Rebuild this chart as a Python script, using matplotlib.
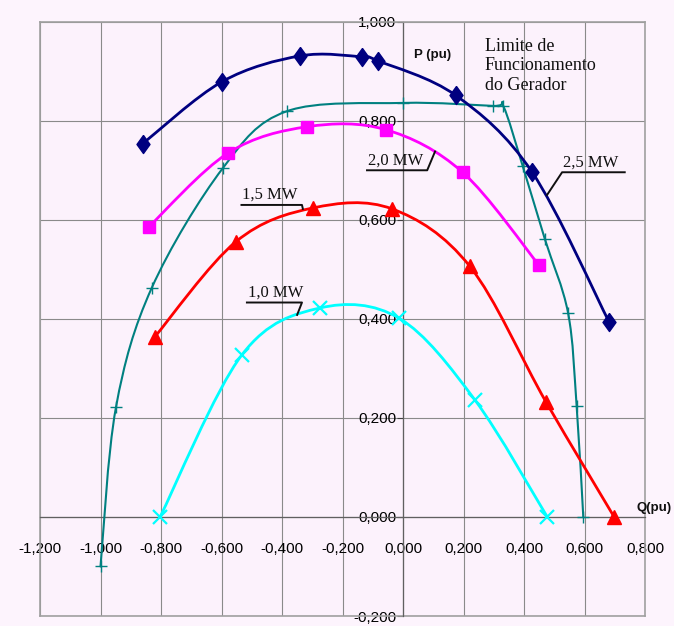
import matplotlib
matplotlib.use("Agg")
import matplotlib.pyplot as plt
from matplotlib.path import Path
from matplotlib.patches import PathPatch
import numpy as np

plt.rcParams['font.family'] = ['Liberation Sans', 'DejaVu Sans']

#%% Dados (Q em pu, P em pu)

# limite de funcionamento do gerador
q_lim = [-1.000, -0.949, -0.831, -0.596, -0.385, 0.001, 0.298, 0.332, 0.396, 0.469, 0.546, 0.574, 0.596]
p_lim = [-0.100, 0.221, 0.462, 0.704, 0.819, 0.836, 0.830, 0.829, 0.708, 0.561, 0.411, 0.224, 0.000]

# 2,5 MW
q_25 = [-0.860, -0.598, -0.340, -0.136, -0.083, 0.175, 0.426, 0.681]
p_25 = [0.754, 0.879, 0.931, 0.929, 0.921, 0.851, 0.697, 0.394]

# 2,0 MW
q_20 = [-0.840, -0.578, -0.316, -0.057, 0.197, 0.450]
p_20 = [0.586, 0.735, 0.788, 0.782, 0.696, 0.508]

# 1,5 MW
q_15 = [-0.820, -0.552, -0.297, -0.036, 0.221, 0.472, 0.698]
p_15 = [0.364, 0.556, 0.624, 0.622, 0.506, 0.233, 0.000]

# 1,0 MW
q_10 = [-0.803, -0.533, -0.274, -0.012, 0.238, 0.477]
p_10 = [0.000, 0.327, 0.422, 0.401, 0.236, 0.000]

xticks = [-1.2, -1.0, -0.8, -0.6, -0.4, -0.2, 0.0, 0.2, 0.4, 0.6, 0.8]
xlabels = ['-1,200', '-1,000', '-0,800', '-0,600', '-0,400', '-0,200',
           '0,000', '0,200', '0,400', '0,600', '0,800']
yticks = [-0.2, 0.0, 0.2, 0.4, 0.6, 0.8, 1.0]
ylabels = ['-0,200', '0,000', '0,200', '0,400', '0,600', '0,800', '1,000']


def curva_suave(x, y):
    # curva de bezier passando pelos pontos (linha suavizada tipo Excel)
    pts = np.column_stack([x, y])
    n = len(pts)
    verts = [pts[0]]
    codes = [Path.MOVETO]
    for i in range(n - 1):
        p0 = pts[max(i - 1, 0)]
        p1 = pts[i]
        p2 = pts[i + 1]
        p3 = pts[min(i + 2, n - 1)]
        verts += [p1 + (p2 - p0) / 6, p2 - (p3 - p1) / 6, p2]
        codes += [Path.CURVE4] * 3
    return Path(verts, codes)


# losango um pouco mais alto que largo (marcador do Excel)
losango = [(0, 1), (0.72, 0), (0, -1), (-0.72, 0), (0, 1)]

#%% Gráfico

fig = plt.figure(figsize=(6.74, 6.26), dpi=100, facecolor='#fdf4fd')
ax = fig.add_axes([40 / 674, 10 / 626, 605 / 674, 594.3 / 626])
ax.set_facecolor('#fcf2fc')

series = [
    (q_lim, p_lim, '#008080', 1.5, '+', 9, 1.0),
    (q_10, p_10, '#00ffff', 2.0, 'x', 10, 1.6),
    (q_15, p_15, '#ff0000', 2.0, '^', 10, 1.0),
    (q_20, p_20, '#ff00ff', 2.0, 's', 8.5, 1.0),
    (q_25, p_25, '#000080', 2.0, losango, 13, 1.0),
]
for z, (q, p, cor, lw, mk, ms, mew) in enumerate(series):
    ax.add_patch(PathPatch(curva_suave(q, p), facecolor='none', edgecolor=cor,
                           lw=lw, capstyle='round', joinstyle='round', zorder=3 + z))
    ax.plot(q, p, linestyle='none', marker=mk, ms=ms, mew=mew, color=cor,
            mec=cor, zorder=3.5 + z, clip_on=False)

ax.set_xlim(-1.2, 0.8)
ax.set_ylim(-0.2, 1.0)
ax.set_xticks(xticks)
ax.set_xticklabels(xlabels)
ax.set_yticks(yticks)
ax.set_yticklabels(ylabels)
ax.grid(True, color='#8a8a8a', lw=0.8, zorder=1)
ax.set_axisbelow(True)

ax.spines['left'].set_position(('data', 0))
ax.spines['bottom'].set_position(('data', 0))
for s in ['left', 'bottom']:
    ax.spines[s].set_color('#606060')
    ax.spines[s].set_linewidth(0.9)
for s in ['top', 'right']:
    ax.spines[s].set_color('#a0a0a0')
    ax.spines[s].set_linewidth(1.2)
ax.axvline(-1.2, color='#a0a0a0', lw=1.2, clip_on=False, zorder=1)
ax.axhline(-0.2, color='#a0a0a0', lw=1.2, clip_on=False, zorder=1)

ax.tick_params(axis='y', direction='out', length=4, pad=1, labelsize=11,
               colors='#404040', labelcolor='#000000')
ax.tick_params(axis='x', length=0, pad=18, labelsize=11, labelcolor='#000000')

ax.text(0.036, 0.933, 'P (pu)', fontsize=9.5, fontweight='bold', va='center', color='#101010')
ax.text(0.772, 0.018, 'Q(pu)', fontsize=9.5, fontweight='bold', va='center',
        color='#101010', clip_on=False)
ax.text(0.271, 0.968, 'Limite de\nFuncionamento\ndo Gerador', family='Liberation Serif',
        fontsize=13, va='top', linespacing=1.2, color='#101010')

# rótulos das curvas com linha de chamada
rotulos = [
    ('2,0 MW', [-0.119, 0.080, 0.106], [0.700, 0.700, 0.738]),
    ('2,5 MW', [0.733, 0.526, 0.476], [0.696, 0.696, 0.650]),
    ('1,5 MW', [-0.534, -0.334, -0.331], [0.630, 0.630, 0.622]),
    ('1,0 MW', [-0.516, -0.334, -0.350], [0.433, 0.433, 0.408]),
]
for txt, xs, ys in rotulos:
    ax.plot(xs, ys, color='#101010', lw=1.4, zorder=9)
    ax.text(min(xs[0], xs[1]) + 0.003, ys[0] + 0.004, txt, family='Liberation Serif',
            fontsize=12, va='bottom', color='#101010', zorder=9)

plt.savefig('out.png', dpi=100, facecolor=fig.get_facecolor())
